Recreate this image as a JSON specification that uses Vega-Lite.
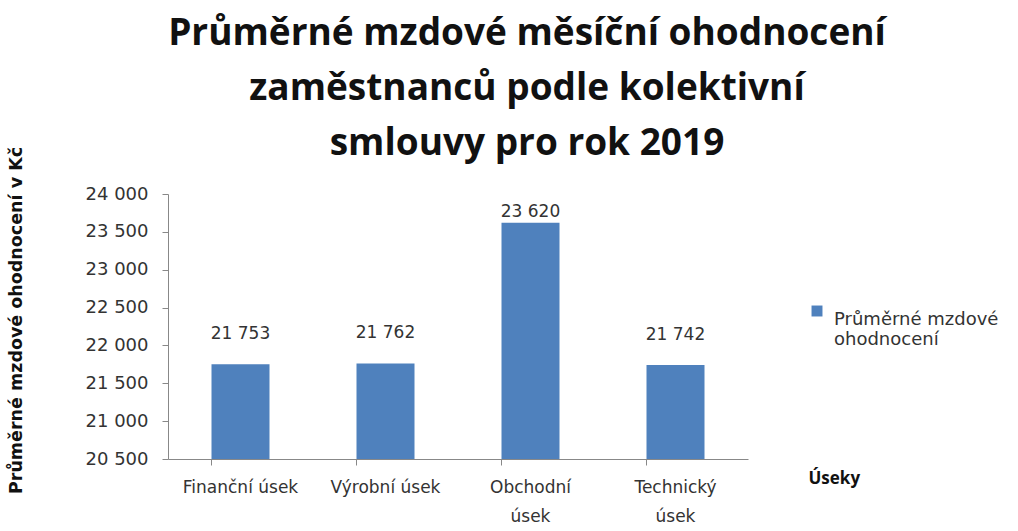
{
  "$schema": "https://vega.github.io/schema/vega-lite/v6.json",
  "autosize": {"type": "none"},
  "padding": {"left": 168, "top": 194, "right": 270, "bottom": 72},
  "width": 580,
  "height": 265,
  "background": "white",
  "config": {
    "locale": {"number": {"decimal": ",", "thousands": " ", "grouping": [3], "currency": ["", " Kč"]}},
    "view": {"stroke": null},
    "font": "DejaVu Sans"
  },
  "title": {
    "text": ["Průměrné mzdové měsíční ohodnocení", "zaměstnanců podle kolektivní", "smlouvy pro rok 2019"],
    "font": "Open Sans",
    "fontSize": 37,
    "fontWeight": "bold",
    "lineHeight": 55,
    "color": "#111",
    "anchor": "middle",
    "dx": 69,
    "dy": 29,
    "offset": 12
  },
  "data": {
    "values": [
      {"usek": "Finanční úsek", "hodnota": 21753},
      {"usek": "Výrobní úsek", "hodnota": 21762},
      {"usek": "Obchodní úsek", "hodnota": 23620},
      {"usek": "Technický úsek", "hodnota": 21742}
    ]
  },
  "encoding": {
    "x": {
      "field": "usek",
      "type": "nominal",
      "sort": null,
      "scale": {"paddingInner": 0.6, "paddingOuter": 0.3},
      "axis": {
        "title": "Úseky",
        "titleFont": "Open Sans",
        "titleFontSize": 17,
        "titleFontWeight": "bold",
        "titleColor": "#111",
        "titleX": 640,
        "titleY": 19,
        "titleAlign": "left",
        "titleBaseline": "middle",
        "titleAngle": 0,
        "labelAngle": 0,
        "labelFont": "DejaVu Sans",
        "labelFontSize": 17,
        "labelColor": "#333",
        "labelPadding": 14,
        "labelLineHeight": 29,
        "labelExpr": "datum.value == 'Obchodní úsek' || datum.value == 'Technický úsek' ? split(datum.value, ' ') : datum.value",
        "bandPosition": 0,
        "ticks": true,
        "tickSize": 6,
        "tickColor": "#888",
        "domainColor": "#888",
        "grid": false
      }
    },
    "y": {
      "field": "hodnota",
      "type": "quantitative",
      "scale": {"domain": [20500, 24000], "nice": false, "zero": false},
      "axis": {
        "title": "Průměrné mzdové ohodnocení v Kč",
        "titleFont": "DejaVu Sans",
        "titleFontSize": 17.5,
        "titleFontWeight": "bold",
        "titleColor": "#111",
        "titleX": -143,
        "titleY": 126,
        "titleAnchor": "middle",
        "values": [20500, 21000, 21500, 22000, 22500, 23000, 23500, 24000],
        "format": ",d",
        "labelFont": "DejaVu Sans",
        "labelFontSize": 18,
        "labelColor": "#333",
        "labelPadding": 14,
        "tickSize": 6,
        "tickColor": "#888",
        "domainColor": "#888",
        "grid": false
      }
    }
  },
  "layer": [
    {
      "mark": {"type": "bar", "clip": true},
      "encoding": {
        "color": {
          "datum": "Průměrné mzdové ohodnocení",
          "type": "nominal",
          "scale": {"range": ["#4F81BD"]},
          "legend": {
            "title": null,
            "orient": "none",
            "legendX": 640,
            "legendY": 108,
            "symbolType": "square",
            "symbolSize": 120,
            "symbolStrokeWidth": 0,
            "labelFont": "DejaVu Sans",
            "labelFontSize": 18,
            "labelColor": "#333",
            "labelLineHeight": 29,
            "labelExpr": "['Průměrné mzdové', 'ohodnocení']",
            "labelBaseline": "top",
            "labelOffset": 8,
            "labelLimit": 250
          }
        }
      }
    },
    {
      "transform": [{"filter": "datum.hodnota < 23000"}],
      "mark": {"type": "text", "dy": -30, "font": "DejaVu Sans", "fontSize": 17, "color": "#333"},
      "encoding": {
        "text": {"field": "hodnota", "type": "quantitative", "format": ",d"}
      }
    },
    {
      "transform": [{"filter": "datum.hodnota >= 23000"}],
      "mark": {"type": "text", "dy": -11, "font": "DejaVu Sans", "fontSize": 17, "color": "#333"},
      "encoding": {
        "text": {"field": "hodnota", "type": "quantitative", "format": ",d"}
      }
    }
  ]
}
